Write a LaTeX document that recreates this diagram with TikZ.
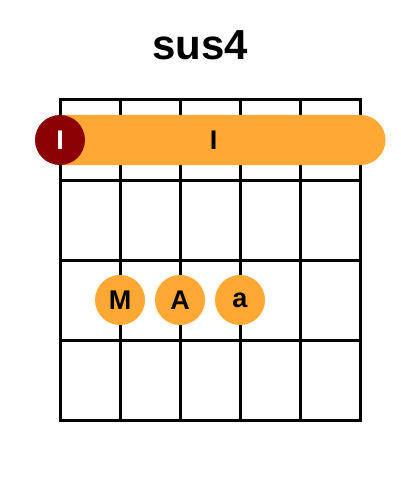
\documentclass[tikz,border=0pt]{standalone}
\usepackage{fontspec}
\setmainfont{Liberation Sans}
\definecolor{barre}{RGB}{255,168,51}
\definecolor{darkred}{RGB}{139,0,0}
\begin{document}
\begin{tikzpicture}[x=1pt,y=-1pt,
  gridline/.style={line width=3pt,line cap=rect},
  lbl/.style={font=\fontsize{27}{27}\selectfont\bfseries},
  finger/.style={circle,fill=barre,minimum size=50pt,inner sep=0pt,lbl},
  root/.style={circle,fill=darkred,minimum size=50pt,inner sep=0pt,text=white,lbl}]
\useasboundingbox (0,0) rectangle (400,500);
\fill[white] (0,0) rectangle (400,500);
\node[font=\fontsize{42}{42}\selectfont\bfseries] (title) at (200,45) {sus4};
\foreach \x in {60,120,180,240,300,360}
  \draw[gridline] (\x,100) -- (\x,420);
\foreach \y in {100,180,260,340,420}
  \draw[gridline] (60,\y) -- (360,\y);
\node[fill=barre,rounded corners=25pt,minimum width=350pt,minimum height=50pt,inner sep=0pt] (bar) at (210.5,140) {};
\node[lbl,inner sep=0pt] (barlabel) at (213.5,140) {I};
\node[root] (r) at (60,140) {I};
\node[finger] (m) at (120,300) {M};
\node[finger] (a1) at (180,300) {A};
\node[finger] (a2) at (240,300) {a};
\end{tikzpicture}
\end{document}
